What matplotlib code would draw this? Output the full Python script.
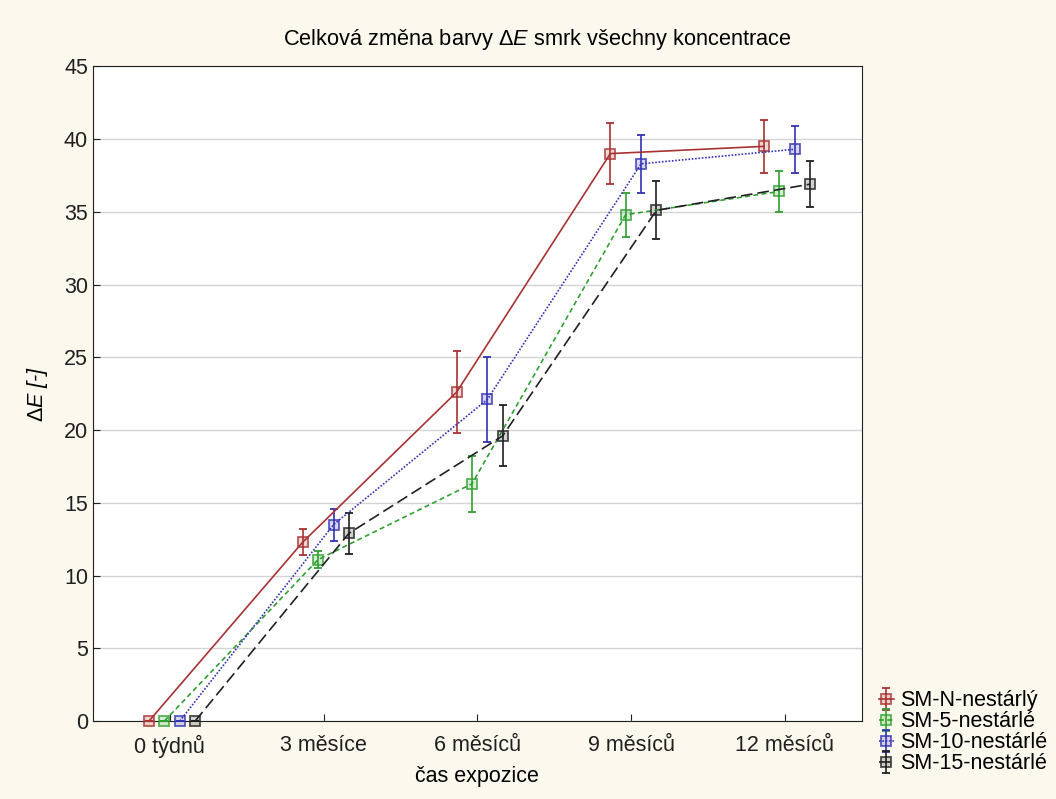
import matplotlib.pyplot as plt
from matplotlib.colors import to_rgba
import numpy as np

plt.rcParams['font.family'] = ['Liberation Sans', 'DejaVu Sans']
plt.rcParams['mathtext.fontset'] = 'custom'
plt.rcParams['mathtext.it'] = 'Liberation Sans:italic'
plt.rcParams['mathtext.rm'] = 'Liberation Sans'

categories = ['0 týdnů', '3 měsíce', '6 měsíců', '9 měsíců', '12 měsíců']
series = ['SM-N-nestárlý', 'SM-5-nestárlé', 'SM-10-nestárlé', 'SM-15-nestárlé']

sm_n = [0.0, 12.3, 22.6, 39.0, 39.5]
sm_n_err = [0.0, 0.9, 2.8, 2.1, 1.8]
sm_5 = [0.0, 11.1, 16.3, 34.8, 36.4]
sm_5_err = [0.0, 0.6, 1.9, 1.5, 1.4]
sm_10 = [0.0, 13.5, 22.1, 38.3, 39.3]
sm_10_err = [0.0, 1.1, 2.9, 2.0, 1.6]
sm_15 = [0.0, 12.9, 19.6, 35.1, 36.9]
sm_15_err = [0.0, 1.4, 2.1, 2.0, 1.6]

values = [sm_n, sm_5, sm_10, sm_15]
errors = [sm_n_err, sm_5_err, sm_10_err, sm_15_err]
colors = ['#a83232', '#30a030', '#3232b4', '#202020']
styles = ['-', (0, (3, 2)), (0, (1, 1)), (0, (7, 3))]
offsets = [-0.135, -0.035, 0.065, 0.165]

fig = plt.figure(figsize=(10.56, 7.99), dpi=100)
fig.patch.set_facecolor('#fdf8ee')
ax = fig.add_axes([0.088, 0.0976, 0.728, 0.8194])
ax.set_facecolor('white')

x = np.arange(len(categories))
handles = []
for vals, errs, c, ls, off in zip(values, errors, colors, styles, offsets):
    h = ax.errorbar(x + off, vals, yerr=errs, color=c, ls=ls, lw=1.2,
                    marker='s', ms=7, mfc=to_rgba(c, 0.2), mec=to_rgba(c, 0.8), mew=1.3,
                    ecolor=c, elinewidth=1.2, capsize=3, capthick=1.2,
                    clip_on=False, zorder=3)
    handles.append(h)

ax.set_xlim(-0.5, 4.5)
ax.set_ylim(0, 45)
ax.set_yticks(np.arange(0, 46, 5))
ax.set_xticks(x)
ax.set_xticklabels(categories)
ax.tick_params(direction='in', labelsize=15.5, length=5, colors='#202020')
ax.tick_params(axis='x', pad=10)
ax.grid(axis='y', color='#d4d4d4', lw=1)
ax.set_axisbelow(True)
for s in ax.spines.values():
    s.set_color('#202020')

fig.text(0.509, 0.95, 'Celková změna barvy $\\mathit{\\Delta E}$ smrk všechny koncentrace',
         ha='center', va='center', fontsize=15.7)
ax.set_xlabel('čas expozice', fontsize=15.5, labelpad=6)
ax.set_ylabel('$\\mathit{\\Delta E}$ [-]', fontsize=15.5, style='italic', labelpad=10)

fig.legend(handles, series, loc='lower right', bbox_to_anchor=(1.0, 0.02),
           frameon=False, fontsize=15.5, handlelength=0.7, handletextpad=0.3,
           labelspacing=0.0, borderaxespad=0.2, borderpad=0.2)

fig.savefig('out.png', dpi=100, facecolor=fig.get_facecolor())
